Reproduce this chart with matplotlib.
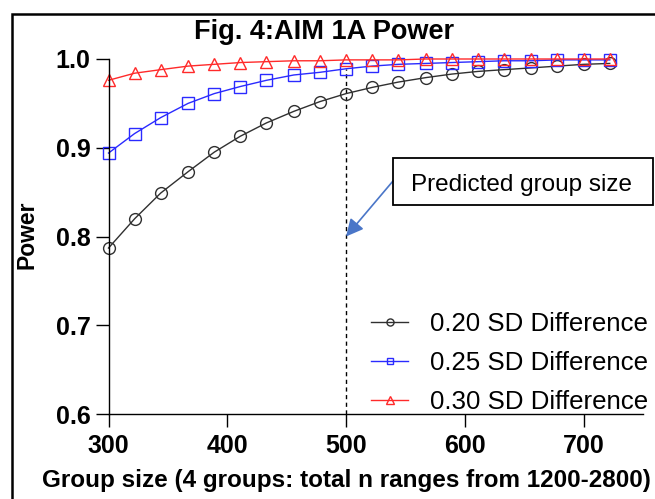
"""Power curves for AIM 1A, by group size and effect size"""
import matplotlib
matplotlib.use('Agg')
import matplotlib.pyplot as plt
from matplotlib.patches import Rectangle

plt.rcParams['font.family'] = ['Liberation Sans', 'DejaVu Sans']

# Data
group_size = [300, 322, 344, 367, 389, 411, 433, 456, 478, 500,
              522, 544, 567, 589, 611, 633, 656, 678, 700, 722]
power_020 = [0.787, 0.820, 0.849, 0.873, 0.895, 0.913, 0.928, 0.941, 0.952, 0.961,
             0.968, 0.974, 0.979, 0.983, 0.986, 0.988, 0.990, 0.992, 0.994, 0.995]
power_025 = [0.894, 0.916, 0.934, 0.950, 0.961, 0.969, 0.976, 0.982, 0.985, 0.989,
             0.992, 0.994, 0.995, 0.996, 0.997, 0.998, 0.998, 0.999, 0.999, 0.999]
power_030 = [0.976, 0.984, 0.988, 0.992, 0.994, 0.996, 0.997, 0.998, 0.998, 0.999,
             0.999, 0.999, 1.0, 1.0, 1.0, 1.0, 1.0, 1.0, 1.0, 1.0]
series_labels = ['0.20 SD Difference', '0.25 SD Difference', '0.30 SD Difference']
x_ticks = [300, 400, 500, 600, 700]
y_ticks = [0.6, 0.7, 0.8, 0.9, 1.0]
predicted_size = 500

W, H = 655, 499


def px(x, y):
    """Pixel position (from top left) to figure fraction"""
    return x / W, 1 - y / H


fig = plt.figure(figsize=(W / 100, H / 100), dpi=100)
ax = fig.add_axes([108.5 / W, 1 - 414 / H, (643 - 108.5) / W, (414 - 59) / H])

# The three curves, hollow markers
ax.plot(group_size, power_020, color='#303030', lw=1, marker='o', ms=8.5,
        mfc='none', mew=1, clip_on=False, label=series_labels[0])
ax.plot(group_size, power_025, color='#2a2aff', lw=1, marker='s', ms=8,
        mfc='none', mew=1, clip_on=False, label=series_labels[1])
ax.plot(group_size, power_030, color='#ff2a2a', lw=1, marker='^', ms=8.5,
        mfc='none', mew=1, clip_on=False, label=series_labels[2])

# Dashed line at the predicted group size
ax.plot([predicted_size, predicted_size], [0.6, power_025[group_size.index(predicted_size)]],
        color='black', lw=1, ls=(0, (3, 2.5)), zorder=1)

ax.set_xlim(300, 750)
ax.set_ylim(0.6, 1.0)
ax.set_xticks(x_ticks)
ax.set_xticklabels([str(v) for v in x_ticks], fontweight='bold')
ax.set_yticks(y_ticks)
ax.set_yticklabels([f'{v:.1f}' for v in y_ticks], fontweight='bold')
ax.tick_params(direction='out', length=9.5, width=1, labelsize=18, colors='black')
ax.tick_params(axis='x', pad=5)
ax.tick_params(axis='y', pad=3.5)
for side in ['top', 'right']:
    ax.spines[side].set_visible(False)
for side in ['left', 'bottom']:
    ax.spines[side].set_linewidth(1)

ax.legend(loc='upper left', bbox_to_anchor=px(371, 312), bbox_transform=fig.transFigure,
          frameon=False, fontsize=18.6, handlelength=1.45, handletextpad=0.82,
          labelspacing=0.58, borderpad=0, borderaxespad=0, markerscale=0.6)

# Callout box and arrow
fig.patches.append(Rectangle(px(393, 205), 260 / W, 47 / H, transform=fig.transFigure,
                             fill=False, ec='black', lw=1.3))
fig.text(*px(411, 191.5), 'Predicted group size', fontsize=17.5, va='baseline', ha='left')
ax.annotate('', xy=(predicted_size, 0.8), xycoords='data',
            xytext=px(393, 181), textcoords='figure fraction',
            arrowprops=dict(arrowstyle='-|>', color='#4a76c8', lw=1.2,
                            mutation_scale=26, shrinkA=0, shrinkB=0))

# Titles
fig.text(*px(324, 39), 'Fig. 4:AIM 1A Power', fontsize=19.5, fontweight='bold',
         ha='center', va='baseline')
fig.text(*px(27, 235), 'Power', fontsize=16.5, fontweight='bold', rotation=90,
         ha='center', va='center')
fig.text(*px(42, 487), 'Group size (4 groups: total n ranges from 1200-2800)',
         fontsize=17.5, fontweight='bold', ha='left', va='baseline')

# Outer frame, cut off at right and bottom
fig.patches.append(Rectangle(px(12, 560), 1.2, (560 - 14) / H, transform=fig.transFigure,
                             fill=False, ec='black', lw=1.8))

fig.savefig('out.png', dpi=100)
